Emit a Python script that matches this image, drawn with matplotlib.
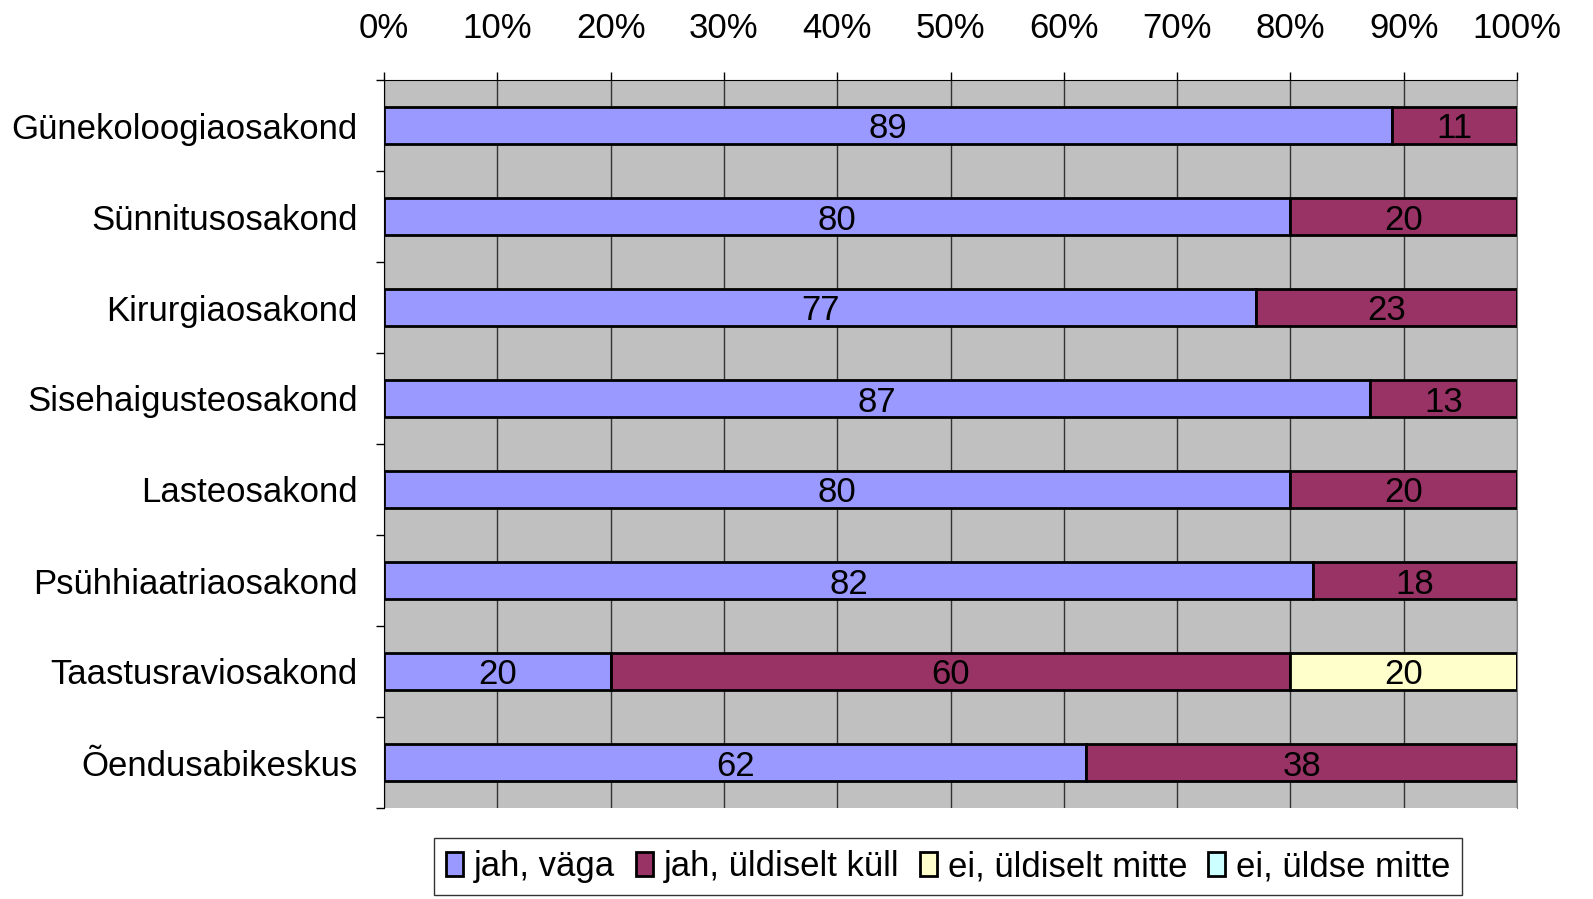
import numpy as np
import matplotlib
matplotlib.use("Agg")
from matplotlib import pyplot as plt
from matplotlib.ticker import FixedLocator, PercentFormatter

plt.rcParams['font.family'] = ['Liberation Sans', 'DejaVu Sans']

categories = ["Günekoloogiaosakond", "Sünnitusosakond", "Kirurgiaosakond",
              "Sisehaigusteosakond", "Lasteosakond", "Psühhiaatriaosakond",
              "Taastusraviosakond", "Õendusabikeskus"]
series_names = ["jah, väga", "jah, üldiselt küll", "ei, üldiselt mitte", "ei, üldse mitte"]
jah_vaga = [89, 80, 77, 87, 80, 82, 20, 62]
jah_kull = [11, 20, 23, 13, 20, 18, 60, 38]
ei_mitte = [0, 0, 0, 0, 0, 0, 20, 0]
ei_yldse = [0, 0, 0, 0, 0, 0, 0, 0]
colors = ["#9999FF", "#993366", "#FFFFCC", "#CCFFFF"]

fig = plt.figure(figsize=(15.93, 8.99), dpi=100)
ax = fig.add_axes([384 / 1593, 1 - 808 / 899, (1517 - 384) / 1593, (808 - 80) / 899])
ax.set_facecolor("#C0C0C0")

y = np.arange(len(categories))
left = np.zeros(len(categories))
handles = []
for name, vals, col in zip(series_names, [jah_vaga, jah_kull, ei_mitte, ei_yldse], colors):
    vals = np.array(vals, dtype=float)
    bars = ax.barh(y, vals, left=left, height=0.41, color=col, edgecolor="black",
                   linewidth=2, label=name, zorder=3)
    handles.append(bars)
    for yi, l, v in zip(y, left, vals):
        if v > 0:
            ax.text(l + v / 2, yi, f"{int(v)}", ha="center", va="center_baseline",
                    fontsize=25, color="black", zorder=4)
    left += vals

ax.set_xlim(0, 100)
ax.set_ylim(len(categories) - 0.5, -0.5)
ax.xaxis.tick_top()
ax.xaxis.set_major_locator(FixedLocator(np.arange(0, 101, 10)))
ax.xaxis.set_major_formatter(PercentFormatter(decimals=0))
ax.tick_params(axis="x", which="major", labelsize=25, length=6, width=1,
               direction="out", pad=19)
ax.grid(axis="x", color="#333333", linewidth=1, zorder=1)

ax.set_yticks(y)
ax.set_yticklabels(categories)
ax.yaxis.set_minor_locator(FixedLocator(np.arange(-0.5, len(categories), 1)))
ax.tick_params(axis="y", which="major", labelsize=25, length=0, pad=19)
ax.tick_params(axis="y", which="minor", length=6, width=1, direction="out")

ax.spines["bottom"].set_visible(False)
ax.spines["right"].set_color("#808080")
ax.spines["top"].set_color("black")
ax.spines["left"].set_color("black")

leg = fig.legend(handles=handles, labels=series_names, loc="upper center",
                 bbox_to_anchor=(948 / 1593, 1 - 838 / 899), ncol=4, fontsize=25,
                 frameon=True, fancybox=False, edgecolor="black",
                 handlelength=0.5, handleheight=0.7, handletextpad=0.3,
                 columnspacing=0.6, borderpad=0.35, borderaxespad=0)
leg.get_frame().set_linewidth(1)

fig.savefig("out.png", dpi=100)
